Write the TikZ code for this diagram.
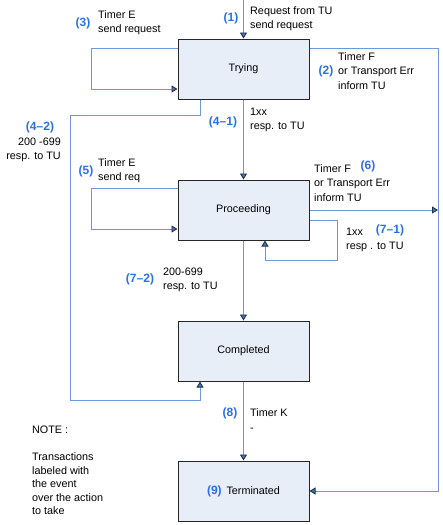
\documentclass[tikz,border=0pt]{standalone}
\usepackage{fontspec}
\setmainfont{Liberation Sans}
\usetikzlibrary{arrows.meta,positioning,calc}
\definecolor{linkblue}{HTML}{7097D6}
\definecolor{numblue}{HTML}{2A6FEA}
\definecolor{boxfill}{HTML}{E8EEF8}
\definecolor{tipblue}{HTML}{4A78C0}

\begin{document}
\begin{tikzpicture}[
  x=1pt, y=-1pt,
  state/.style={draw=black!85, fill=boxfill, line width=1pt, minimum width=131pt, minimum height=60pt, inner sep=0pt, font=\fontsize{10.8}{12}\selectfont},
  link/.style={draw=linkblue, line width=0.9pt},
  arrow/.style={link, -{Triangle[length=6pt, width=7pt, fill=tipblue, color=black!60!tipblue]}},
  lbl/.style={font=\fontsize{10.8}{14.2}\selectfont, align=left, anchor=west, inner sep=0pt},
  num/.style={font=\fontsize{12}{13}\selectfont\bfseries, text=numblue, inner sep=0pt}
]
\useasboundingbox (0,0) rectangle (442,525);

% states
\node[state] (trying) at (243.5,69) {Trying};
\node[state] (proceeding) at (243.5,210) {Proceeding};
\node[state] (completed) at (243.5,351) {Completed};
\node[state] (terminated) at (243.5,491) {\textcolor{numblue}{\fontsize{12}{13}\selectfont\bfseries (9)}\, Terminated};

\coordinate (start) at (243.5,0);
\coordinate (edge) at (438,0);
\coordinate (left) at (70,0);

% main path
\draw[arrow] (start) -- (trying);
\draw[arrow] (trying) -- (proceeding);
\draw[arrow] (proceeding) -- (completed);
\draw[arrow] (completed) -- (terminated);

% self loops
\draw[arrow] ($(trying.west)+(0,-21)$) -- ++(-86,0) -- ++(0,41) -- ($(trying.west)+(0,20)$);
\draw[arrow] ($(proceeding.west)+(0,-22)$) -- ++(-86,0) -- ++(0,41) -- ($(proceeding.west)+(0,19)$);
\draw[arrow] ($(proceeding.east)+(0,10)$) -- ++(28,0) -- ++(0,40) -| ($(proceeding.south)+(21.5,0)$);

% timeouts to terminated
\draw[arrow] ($(trying.east)+(0,-21)$) -| (edge |- terminated) -- (terminated);
\draw[arrow] (proceeding) -- (edge |- proceeding);

% final response from trying
\draw[arrow] ($(trying.south)+(-43.5,0)$) -- ++(0,16) -| ($(left)+(0,400)$) -| ($(completed.south)+(-43.5,0)$);

% labels
\node[num] at (231,18) {(1)};
\node[lbl] at (250,19) {Request from TU\\send request};
\node[num] at (326,71) {(2)};
\node[lbl] at (338,71) {Timer F\\or Transport Err\\inform TU};
\node[num] at (83,23) {(3)};
\node[lbl] at (98,23) {Timer E\\send request};
\node[num] at (223,122) {(4--1)};
\node[lbl] at (250,120) {1xx\\resp. to TU};
\node[num] at (40,127) {(4--2)};
\node[lbl, anchor=east, align=right] at (61,150) {200 -699\\resp. to TU};
\node[num] at (86,171) {(5)};
\node[lbl] at (98,171) {Timer E\\send req};
\node[num] at (368,166) {(6)};
\node[lbl] at (314,183) {Timer F\\or Transport Err\\inform TU};
\node[num] at (390,230) {(7--1)};
\node[lbl] at (346,240) {1xx\\resp . to TU};
\node[num] at (140,279) {(7--2)};
\node[lbl] at (163,280) {200-699\\resp. to TU};
\node[num] at (230,413) {(8)};
\node[lbl] at (250,420) {Timer K\\-};
\node[lbl] at (32,430) {NOTE :};
\node[lbl, font=\fontsize{10.8}{13.5}\selectfont] at (32,484) {Transactions\\labeled with\\the event\\over the action\\to take};
\end{tikzpicture}
\end{document}
